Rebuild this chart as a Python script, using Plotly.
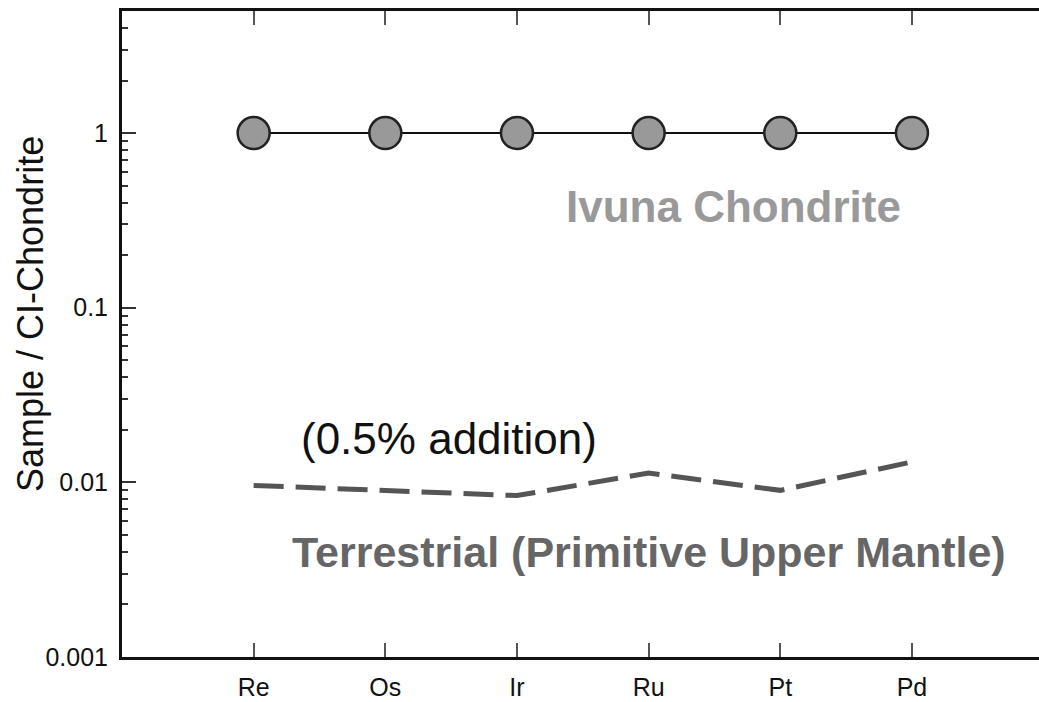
import plotly.graph_objects as go

# Siderophile elements along the x axis
elements = ["Re", "Os", "Ir", "Ru", "Pt", "Pd"]

# Sample / CI-chondrite normalised abundances
ivuna = [1, 1, 1, 1, 1, 1]
terrestrial = [0.0096, 0.0090, 0.0084, 0.0113, 0.0090, 0.0131]

# Log-axis decades and labels
y_tickvals = [0.001, 0.01, 0.1, 1]
y_ticktext = ["0.001", "0.01", "0.1", "1"]

FONT = "Liberation Sans, Arial, Helvetica, sans-serif"

fig = go.Figure()

fig.add_trace(go.Scatter(
    x=elements, y=ivuna, mode="lines+markers",
    line=dict(color="#111111", width=2),
    marker=dict(size=32, color="#999999", line=dict(color="#222222", width=2.5)),
    showlegend=False,
))

fig.add_trace(go.Scatter(
    x=elements, y=terrestrial, mode="lines",
    line=dict(color="#555555", width=5, dash="30px,12px"),
    showlegend=False,
))

fig.update_layout(
    width=1039, height=702,
    margin=dict(l=122, r=0, t=11, b=45),
    paper_bgcolor="white", plot_bgcolor="white",
    font=dict(family=FONT, size=25, color="#111111"),
    xaxis=dict(
        type="category", range=[-1, 5.965],
        showgrid=False, zeroline=False,
        showline=True, linecolor="#111111", linewidth=3, mirror="ticks",
        ticks="inside", ticklen=14, tickwidth=2, tickcolor="#555555",
        tickfont=dict(size=25, color="#111111"),
        ticklabelstandoff=6,
    ),
    yaxis=dict(
        type="log", range=[-3, 0.699],
        showgrid=False, zeroline=False,
        showline=True, linecolor="#111111", linewidth=3,
        ticks="inside", ticklen=14, tickwidth=2, tickcolor="#333333",
        tickvals=y_tickvals, ticktext=y_ticktext,
        tickfont=dict(size=25, color="#111111"),
        ticklabelstandoff=6,
        minor=dict(ticks="inside", ticklen=6, tickwidth=1.5, tickcolor="#333333",
                   dtick="D1", showgrid=False),
    ),
    yaxis2=dict(
        type="log", range=[-3, 0.699], overlaying="y", side="right", anchor="x",
        showgrid=False, zeroline=False, showline=False,
        ticks="inside", ticklen=10, tickwidth=2, tickcolor="#333333",
        tickvals=y_tickvals, showticklabels=False,
        minor=dict(ticks="inside", ticklen=4, tickwidth=1.5, tickcolor="#333333",
                   dtick="D1", showgrid=False),
    ),
)

fig.add_annotation(
    text="Sample / CI-Chondrite", textangle=-90,
    xref="paper", yref="paper", x=-(122 - 30) / 917, y=(657 - 314) / 646,
    xanchor="center", yanchor="middle", showarrow=False,
    font=dict(size=36, color="#111111"),
)

fig.add_annotation(
    text="<b>Ivuna Chondrite</b>", x=3.643, y=-0.42, xref="x", yref="y",
    showarrow=False, font=dict(size=44, color="#999999"),
)
fig.add_annotation(
    text="(0.5% addition)", x=1.485, y=-1.748, xref="x", yref="y",
    showarrow=False, font=dict(size=44, color="#111111"),
)
fig.add_annotation(
    text="<b>Terrestrial (Primitive Upper Mantle)</b>", x=3.005, y=-2.401,
    xref="x", yref="y", showarrow=False, font=dict(size=43, color="#666666"),
)

fig.write_html("out.html")
